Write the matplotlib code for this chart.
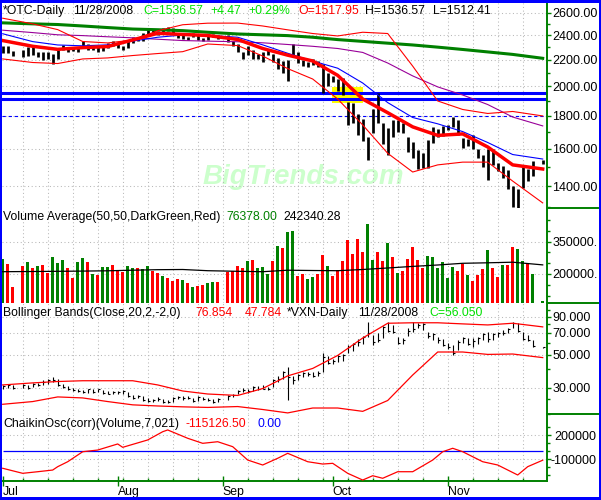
import numpy as np
import pandas as pd
import matplotlib
matplotlib.use("Agg")
import matplotlib.pyplot as plt
from matplotlib.patches import Rectangle
from matplotlib.lines import Line2D
from matplotlib.ticker import NullFormatter

plt.rcParams['font.family'] = ['Liberation Sans', 'DejaVu Sans']
plt.rcParams['font.size'] = 8.8

# ---- trading days Jul 1 - Nov 28 2008 ----
holidays = ['2008-07-04', '2008-09-01', '2008-11-27']
days = pd.bdate_range('2008-07-01', '2008-11-28')
days = days[~days.isin(pd.to_datetime(holidays))]

# ---- *OTC daily bars ----
prev_close = 2293
highs = [2310, 2309, 2268, 2281, 2299, 2299, 2263, 2262, 2264, 2243, 2286, 2319, 2296, 2297, 2306, 2348, 2330, 2317, 2312, 2322, 2333, 2350,
         2338, 2312, 2350, 2384, 2386, 2418, 2454, 2448, 2440, 2468, 2470, 2463, 2412, 2400, 2390, 2418, 2408, 2375, 2392, 2413, 2402,
         2403, 2350, 2326, 2264, 2312, 2274, 2246, 2260, 2275, 2243, 2214, 2190, 2200, 2324, 2265, 2197, 2180, 2205, 2193, 2165, 2094,
         2073, 2050, 2059, 1890, 1885, 1810, 1777, 1669, 1844, 1950, 1757, 1720, 1770, 1771, 1757, 1670, 1641, 1590, 1576, 1650, 1730, 1714, 1733,
         1742, 1794, 1773, 1665, 1656, 1680, 1598, 1567, 1597, 1596, 1521, 1503, 1484, 1400, 1386, 1497, 1486, 1533, 1536.57]
lows = [2253, 2250, 2231, 2221, 2227, 2234, 2221, 2197, 2208, 2167, 2205, 2275, 2264, 2270, 2260, 2305, 2278, 2277, 2263, 2268, 2297, 2312,
        2295, 2280, 2294, 2335, 2350, 2350, 2408, 2420, 2403, 2410, 2440, 2410, 2375, 2370, 2360, 2389, 2360, 2352, 2360, 2390, 2366,
        2340, 2311, 2258, 2205, 2241, 2209, 2202, 2180, 2236, 2179, 2126, 2099, 2038, 2238, 2178, 2152, 2140, 2160, 2145, 1950, 2005,
        2030, 1970, 1940, 1740, 1752, 1682, 1642, 1535, 1690, 1755, 1626, 1566, 1668, 1700, 1692, 1580, 1547, 1490, 1493, 1495, 1632, 1667, 1677,
        1709, 1730, 1681, 1605, 1617, 1598, 1550, 1499, 1428, 1509, 1476, 1440, 1386, 1300, 1295, 1392, 1425, 1451, 1512.41]
closes = [2305, 2251, 2245, 2243, 2294, 2235, 2258, 2239, 2213, 2216, 2285, 2312, 2283, 2280, 2304, 2326, 2280, 2311, 2264, 2320, 2330, 2326,
          2311, 2286, 2350, 2378, 2356, 2414, 2440, 2431, 2429, 2454, 2453, 2417, 2384, 2389, 2380, 2415, 2366, 2362, 2382, 2412, 2368,
          2349, 2334, 2259, 2256, 2270, 2210, 2229, 2258, 2261, 2180, 2208, 2099, 2199, 2274, 2179, 2153, 2156, 2187, 2183, 1984, 2092,
          2069, 1977, 1947, 1863, 1755, 1740, 1645, 1650, 1844, 1779, 1628, 1718, 1711, 1770, 1697, 1616, 1604, 1552, 1506, 1649, 1657, 1699, 1721,
          1726, 1780, 1682, 1609, 1647, 1617, 1581, 1499, 1597, 1517, 1482, 1483, 1386, 1316, 1384, 1472, 1465, 1532.10, 1536.57]

volume = [268000, 245000, 141000, 239000, 254000, 229000, 236000, 240000, 206000, 280000, 250000, 267000, 229000, 183000, 257000, 276000, 257000, 202000, 195000, 234000, 231000, 240000,
          220000, 209000, 239000, 229000, 226000, 225000, 239000, 212000, 205000, 192000, 181000, 167000, 175000, 174000, 157000, 138000, 146000, 147000, 157000, 161000, 161000,
          208000, 212000, 238000, 230000, 261000, 264000, 230000, 233000, 201000, 262000, 329000, 320000, 397000, 401000, 192000, 201000, 179000, 188000, 200000, 289000, 238000,
          192000, 220000, 260000, 359000, 291000, 364000, 304000, 432000, 267000, 301000, 260000, 346000, 280000, 206000, 215000, 268000, 324000, 265000, 229000, 285000, 280000, 230000, 254000,
          180000, 234000, 214000, 245000, 194000, 169000, 194000, 222000, 310000, 226000, 186000, 240000, 242000, 327000, 318000, 260000, 250000, 200000, 76378]

# ---- *VXN daily bars ----
vxn_hi = [31.5, 31.8, 31.2, 31.9, 31.5, 32.2, 32.5, 33.6, 34.2, 35.6, 34.5, 32.0, 30.8, 30.0, 29.6, 29.0, 29.5, 29.3, 29.6, 29.0, 28.4, 28.6,
          28.6, 28.9, 28.0, 26.8, 26.9, 26.3, 25.6, 25.3, 25.9, 25.3, 24.8, 25.8, 26.5, 26.2, 26.3, 25.5, 26.2, 26.0, 25.6, 25.0, 25.5,
          26.6, 27.3, 29.0, 29.9, 29.4, 30.6, 30.8, 31.4, 30.2, 34.5, 36.0, 39.0, 41.5, 35.8, 36.9, 38.2, 38.5, 38.0, 38.6, 51.0, 49.0,
          46.8, 49.5, 50.5, 58.0, 59.5, 64.0, 66.5, 83.5, 67.5, 70.0, 77.5, 83.0, 79.0, 66.0, 64.5, 75.0, 83.0, 82.0, 81.0, 71.5, 70.0, 66.0, 64.0,
          60.0, 58.0, 62.5, 66.0, 64.5, 64.5, 66.0, 69.5, 71.5, 69.5, 71.5, 73.5, 75.0, 83.5, 81.0, 71.5, 67.5, 63.0, 56.6]
vxn_lo = [29.5, 30.0, 29.6, 30.0, 29.5, 30.2, 30.8, 31.4, 32.0, 32.8, 31.0, 29.8, 29.0, 28.6, 28.0, 27.6, 27.8, 27.8, 28.0, 27.4, 27.0, 27.0,
          27.0, 27.4, 26.0, 25.3, 25.4, 24.6, 24.0, 24.1, 24.4, 23.8, 23.6, 24.0, 25.0, 24.9, 25.0, 24.2, 24.6, 24.8, 24.5, 23.8, 24.2,
          24.9, 25.8, 27.0, 28.0, 27.6, 28.5, 29.0, 29.2, 28.8, 30.5, 32.8, 34.5, 24.8, 32.0, 34.0, 35.6, 36.2, 35.5, 35.8, 38.5, 43.5,
          43.0, 44.8, 45.5, 51.0, 53.0, 57.0, 59.0, 66.0, 58.0, 60.5, 65.0, 70.5, 69.5, 59.0, 59.0, 67.0, 71.0, 75.0, 73.0, 64.5, 62.5, 59.5, 57.5,
          55.0, 49.5, 53.5, 60.0, 58.0, 56.5, 59.0, 62.5, 61.0, 62.5, 65.5, 67.5, 69.5, 75.0, 71.0, 62.5, 61.5, 56.5, 55.6]
vxn_cl = [30.8, 31.2, 30.0, 31.2, 29.9, 31.8, 31.3, 32.8, 33.6, 34.0, 31.5, 30.2, 29.4, 29.0, 28.4, 28.0, 29.2, 28.2, 29.3, 27.8, 27.3, 27.9,
          27.9, 28.4, 26.3, 25.7, 26.4, 24.9, 24.4, 24.8, 25.2, 24.1, 24.0, 25.4, 26.0, 25.6, 25.5, 24.5, 25.9, 25.3, 24.9, 24.1, 25.2,
          26.2, 26.9, 28.6, 28.8, 28.4, 30.3, 29.4, 29.6, 29.5, 34.0, 34.2, 38.2, 35.5, 34.0, 36.5, 37.4, 37.3, 36.0, 37.8, 48.0, 44.0,
          45.2, 48.8, 49.8, 56.0, 58.8, 60.5, 66.0, 70.0, 60.5, 63.0, 76.5, 72.0, 71.5, 60.0, 62.5, 72.5, 74.0, 79.0, 80.0, 67.0, 68.5, 63.0, 58.5,
          56.5, 51.5, 60.5, 64.5, 59.0, 62.0, 64.5, 69.0, 63.5, 68.5, 70.0, 69.5, 74.5, 81.0, 72.5, 64.0, 62.5, 57.0, 56.05]

# ---- indicator lines, read every 5th trading day ----
line_idx = list(range(0, 105, 5)) + [105]
ma_green = [2510, 2501, 2495, 2482, 2468, 2455, 2449, 2441, 2427, 2412, 2405, 2398, 2384, 2364, 2349, 2334, 2319, 2301, 2282, 2262, 2242, 2211]
ma_purple = [2445, 2424, 2405, 2398, 2388, 2379, 2367, 2356, 2351, 2346, 2337, 2323, 2308, 2290, 2258, 2174, 2076, 1996, 1939, 1874, 1792, 1736]
ma_blue = [2414, 2347, 2319, 2312, 2320, 2351, 2384, 2403, 2400, 2384, 2320, 2251, 2190, 2134, 2024, 1887, 1789, 1749, 1701, 1636, 1567, 1542]
ma_red = [2356, 2308, 2283, 2297, 2306, 2361, 2418, 2408, 2399, 2365, 2290, 2236, 2190, 2080, 1911, 1820, 1730, 1678, 1687, 1610, 1510, 1488]
bb_up = [2552, 2501, 2450, 2348, 2336, 2361, 2440, 2493, 2507, 2508, 2482, 2448, 2416, 2395, 2427, 2416, 2150, 1898, 1841, 1815, 1828, 1799]
bb_lo = [2206, 2178, 2170, 2206, 2214, 2233, 2249, 2264, 2327, 2314, 2229, 2131, 2053, 1911, 1742, 1574, 1472, 1510, 1525, 1525, 1425, 1318]
vol_avg = [210700, 211600, 212500, 213500, 214900, 217600, 220000, 220900, 215300, 212500, 210700, 217600, 216200, 215300, 220900, 227900, 235300, 241800, 249700, 252000, 254800, 242340]
vxn_up = [31.3, 32.3, 33.0, 33.4, 33.4, 33.4, 31.3, 28.5, 27.2, 26.6, 29.6, 36.0, 40.4, 49.4, 64.7, 81.3, 81.9, 81.9, 80.5, 79.2, 81.3, 76.854]
vxn_dn = [23.2, 24.2, 26.0, 25.6, 24.2, 23.0, 22.6, 22.3, 22.1, 22.4, 21.4, 20.3, 21.9, 21.9, 20.8, 24.6, 36.5, 52.1, 52.1, 50.2, 50.5, 47.784]

cho_idx = [0, 3, 6, 9, 10, 12, 15, 18, 22, 23, 28, 31, 32, 36, 39, 42, 44, 47, 50, 53, 55, 59, 62, 64, 67, 70, 72, 74, 77, 80, 84, 86, 88, 90, 94, 97, 101, 103, 105]
cho_val = [-216000, -279000, -259000, -238000, -196000, -134000, -9000, 12000, 88000, 46000, 138000, 241000, 263000, 159000, 96000, 116000, 54000, -113000, -175000, -91000,
           -29000, -134000, -163000, -154000, -279000, -363000, -309000, -341000, -259000, -259000, -113000, -9000, 34000, -9000, -134000, -175000, -300000, -196000, -115126.5]

# drawn levels
support_lines = [1952, 1911]
dashed_line = 1800
hl_dates = ('2008-10-01', '2008-10-09')
hl_prices = (1884, 1995)

# ---- colours ----
GREEN = '#008000'
LIME = '#00e000'
RED = '#ff0000'
BLUE = '#0000ff'
PURPLE = '#990099'
GRID = '#b8b8b8'

W, H = 601, 500
def fx(px):
    return px / W
def fy(py):
    return 1 - py / H

d0 = np.datetime64('2008-07-01')
def slot(d):
    return np.busday_count(d0, np.array(d, dtype='datetime64[D]'))

x = slot(days.values.astype('datetime64[D]'))
weeks = slot(pd.date_range('2008-07-07', '2008-11-24', freq='W-MON').values.astype('datetime64[D]'))
months = pd.date_range('2008-07-01', '2008-11-01', freq='MS')
mpos = slot(months.values.astype('datetime64[D]'))
xl = x[line_idx]

AX_L, AX_R = 2.2, 547.3
xlim = ((AX_L - 2.7) / 5, (AX_R - 2.7) / 5)
panels = [(3, 208.3), (208.3, 303.3), (303.3, 414.3), (414.3, 481)]

fig = plt.figure(figsize=(6.01, 5.0), dpi=100)
axes = []
for top, bot in panels:
    ax = fig.add_axes([fx(AX_L), fy(bot), fx(AX_R) - fx(AX_L), (bot - top) / H])
    for s in ['top', 'left', 'bottom']:
        ax.spines[s].set_visible(False)
    ax.spines['right'].set_color(GREEN)
    ax.spines['right'].set_linewidth(1.4)
    ax.yaxis.tick_right()
    ax.set_xlim(*xlim)
    ax.set_xticks(weeks, minor=True)
    ax.set_xticks([])
    ax.tick_params(axis='x', which='both', length=0, labelbottom=False)
    ax.tick_params(axis='y', which='major', direction='out', length=2.9, width=1, color=GREEN, pad=0.8, labelsize=9)
    ax.tick_params(axis='y', which='minor', direction='out', length=1.8, width=1, color=GREEN)
    ax.grid(True, axis='x', which='minor', color=GRID, linestyle=(0, (1, 2.5)), lw=0.75)
    ax.grid(True, axis='y', which='major', color=GRID, linestyle=(0, (1, 2.5)), lw=0.75)
    ax.set_axisbelow(True)
    axes.append(ax)
ax_p, ax_v, ax_x, ax_c = axes

# ---- price panel ----
ax_p.set_yscale('log')
ax_p.set_ylim(1292.8, 2694.7)
pt = [2600, 2400, 2200, 2000, 1800, 1600, 1400]
ax_p.set_yticks(pt, labels=['%.2f' % v for v in pt])
ax_p.set_yticks([2500, 2300, 2100, 1900, 1700, 1500, 1300], minor=True)
ax_p.yaxis.set_minor_formatter(NullFormatter())

hx = slot(list(hl_dates))
ax_p.add_patch(Rectangle((hx[0] - 0.05, hl_prices[0]), hx[1] - hx[0] + 0.1, hl_prices[1] - hl_prices[0],
                         color='#ffff00', lw=0, zorder=1))
ax_p.text(fx(203), fy(184), 'BigTrends.com', transform=fig.transFigure, color='#ccffcc',
          fontsize=20, fontweight='bold', style='italic', ha='left', va='baseline', zorder=0.5)
for lv in support_lines:
    ax_p.axhline(lv, color=BLUE, lw=2.2, zorder=2)
ax_p.axhline(dashed_line, color=BLUE, lw=0.8, linestyle=(0, (3, 2.5)), zorder=2)

ax_p.vlines(x, lows, highs, color='black', lw=1.95, zorder=3)

ax_p.plot(xl, ma_green, color=GREEN, lw=2.2, zorder=4)
ax_p.plot(xl, ma_purple, color=PURPLE, lw=0.8, zorder=4)
ax_p.plot(xl, ma_blue, color=BLUE, lw=0.8, zorder=4)
ax_p.plot(xl, bb_up, color=RED, lw=0.8, zorder=4)
ax_p.plot(xl, bb_lo, color=RED, lw=0.8, zorder=4)
ax_p.plot(xl, ma_red, color=RED, lw=2.5, zorder=5)

# ---- volume panel ----
cl = np.array(closes)
prev = np.concatenate([[prev_close], cl[:-1]])
vcol = np.where(cl >= prev, GREEN, RED)
ax_v.set_ylim(63974, 505000)
ax_v.set_yticks([350000, 200000], labels=['350000.', '200000.'])
ax_v.set_yticks([450000, 400000, 300000, 250000, 150000, 100000], minor=True)
ax_v.bar(x, volume, width=0.65, color=vcol, zorder=3)
ax_v.plot(xl, vol_avg, color='black', lw=0.9, zorder=4)

# ---- VXN panel ----
ax_x.set_yscale('log')
ax_x.set_ylim(19.87, 110.7)
xt = [90, 70, 50, 30]
ax_x.set_yticks(xt, labels=['%.3f' % v for v in xt])
ax_x.set_yticks([100, 80, 60, 40, 25, 20], minor=True)
ax_x.yaxis.set_minor_formatter(NullFormatter())
ax_x.vlines(x, vxn_lo, vxn_hi, color='black', lw=0.8, zorder=3)
ax_x.hlines(vxn_cl, x, x + 0.5, color='black', lw=0.8, zorder=3)
ax_x.plot(xl, vxn_up, color=RED, lw=0.9, zorder=4)
ax_x.plot(xl, vxn_dn, color=RED, lw=0.9, zorder=4)

# ---- Chaikin panel ----
ax_c.set_ylim(-375000, 458750)
ax_c.set_yticks([200000, -100000], labels=['200000', '-100000'])
ax_c.set_yticks([300000, 100000, 0, -200000, -300000], minor=True)
ax_c.tick_params(axis='y', which='major', pad=32.6)
for lab in ax_c.get_yticklabels():
    lab.set_ha('right')
ax_c.hlines(0, x[0], x[-1], color=BLUE, lw=0.9, zorder=3)
ax_c.plot(x[cho_idx], cho_val, color=RED, lw=0.9, zorder=4)

ax_c.spines['bottom'].set_visible(True)
ax_c.spines['bottom'].set_color(GREEN)
ax_c.spines['bottom'].set_linewidth(1.4)
ax_c.set_xticks(mpos, labels=months.strftime('%b'))
ax_c.tick_params(axis='x', which='major', direction='inout', length=7, width=1, color=GREEN,
                 labelbottom=True, pad=0, labelsize=8.8)
ax_c.tick_params(axis='x', which='minor', direction='in', length=2.2, width=1, color=GREEN)
for lab in ax_c.get_xticklabels():
    lab.set_ha('left')

# ---- panel captions ----
def caption(px, py, s, c='black'):
    fig.text(fx(px), fy(py), s, color=c, ha='left', va='baseline', fontsize=8.8, zorder=10)

caption(3, 14.3, '*OTC-Daily')
caption(73, 14.3, '11/28/2008')
caption(143.3, 14.3, 'C=1536.57', LIME)
caption(210.7, 14.3, '+4.47', LIME)
caption(248.3, 14.3, '+0.29%', LIME)
caption(298.3, 14.3, 'O=1517.95', RED)
caption(365, 14.3, 'H=1536.57')
caption(433.3, 14.3, 'L=1512.41')

caption(3, 220, 'Volume Average(50,50,DarkGreen,Red)')
caption(226, 220, '76378.00', GREEN)
caption(283.5, 220, '242340.28')

caption(3, 316.3, 'Bollinger Bands(Close,20,2,-2,0)')
caption(195.4, 316.3, '76.854', RED)
caption(245, 316.3, '47.784', RED)
caption(287, 316.3, '*VXN-Daily')
caption(358, 316.3, '11/28/2008')
caption(429, 316.3, 'C=56.050', LIME)

caption(3, 427, 'ChaikinOsc(corr)(Volume,7,021)')
caption(186, 427, '-115126.50', RED)
caption(257, 427, '0.00', BLUE)

# ---- separators in the scale area and blue frame ----
for py in [208.3, 303.3, 414.3]:
    fig.add_artist(Line2D([fx(AX_R), fx(598)], [fy(py), fy(py)], color=GREEN, lw=1.4))
for (bx, by, bw, bh) in [(0, 0, 2, 500), (0, 0, 601, 2.5), (598.5, 0, 2.5, 500), (0, 497, 601, 3)]:
    fig.add_artist(Rectangle((fx(bx), fy(by + bh)), bw / W, bh / H, transform=fig.transFigure,
                             color=BLUE, lw=0, zorder=20))

fig.savefig('out.png', dpi=100)
